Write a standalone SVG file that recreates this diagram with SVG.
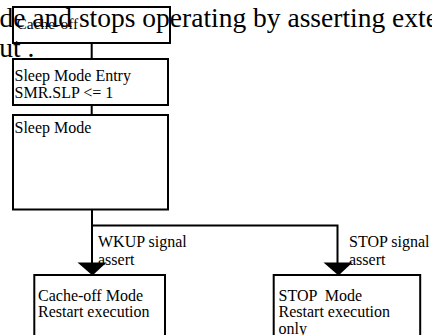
<svg xmlns="http://www.w3.org/2000/svg" width="432" height="335" viewBox="0 0 432 335">
  <style>
    .page { font-family: "Liberation Serif", "Times New Roman", serif; font-size: 27.5px; fill: #000; }
    .box { fill: none; stroke: #000; stroke-width: 2; }
    .lbl { font-family: "Liberation Serif", "Times New Roman", serif; font-size: 16px; fill: #000; }
    .small { font-family: "Liberation Serif", "Times New Roman", serif; font-size: 15.5px; fill: #000; }
    .wire { fill: none; stroke: #000; stroke-width: 2; }
    .head { fill: #000; stroke: none; }
  </style>
  <rect width="432" height="335" fill="#fff"/>

  <!-- running body text behind the chart -->
  <text class="page" x="-0.5" y="26.5">de and stops operating by asserting exte</text>
  <text class="page" x="-14.5" y="57">out .</text>

  <!-- connectors -->
  <g id="connectors">
    <line class="wire" x1="91.7" y1="43" x2="91.7" y2="59"/>
    <line class="wire" x1="91.7" y1="105" x2="91.7" y2="115"/>
    <polyline class="wire" points="92,209.5 92,263"/>
    <polyline class="wire" points="92,225.5 337.5,225.5 337.5,263"/>
    <polygon class="head" points="77.5,262.5 106.5,262.5 92.5,275.5"/>
    <polygon class="head" points="323.5,262.5 352.5,262.5 338.5,275.5"/>
    <text class="lbl" x="98" y="246.5">WKUP signal</text>
    <text class="lbl" x="98" y="265">assert</text>
    <text class="lbl" x="349" y="246.5">STOP signal</text>
    <text class="lbl" x="349" y="265">assert</text>
  </g>

  <g id="cache-off">
    <rect class="box" x="13" y="7" width="157" height="36"/>
    <text class="small" x="16.5" y="29">Cache-off</text>
  </g>

  <g id="sleep-entry">
    <rect class="box" x="13" y="59" width="155" height="46"/>
    <text class="lbl" x="14.5" y="81">Sleep Mode Entry</text>
    <text class="lbl" x="14.5" y="97.5">SMR.SLP &lt;= 1</text>
  </g>

  <g id="sleep-mode">
    <rect class="box" x="13" y="115" width="155" height="94.5"/>
    <text class="lbl" x="14.5" y="133">Sleep Mode</text>
  </g>

  <g id="cache-off-mode">
    <rect class="box" x="34.3" y="275" width="130.7" height="80"/>
    <text class="lbl" x="38" y="300.5">Cache-off Mode</text>
    <text class="lbl" x="38" y="317">Restart execution</text>
  </g>

  <g id="stop-mode">
    <rect class="box" x="273.7" y="275" width="146.5" height="80"/>
    <text class="lbl" x="278.5" y="300.5" xml:space="preserve">STOP  Mode</text>
    <text class="lbl" x="278.5" y="317">Restart execution</text>
    <text class="lbl" x="278.5" y="334">only</text>
  </g>
</svg>
